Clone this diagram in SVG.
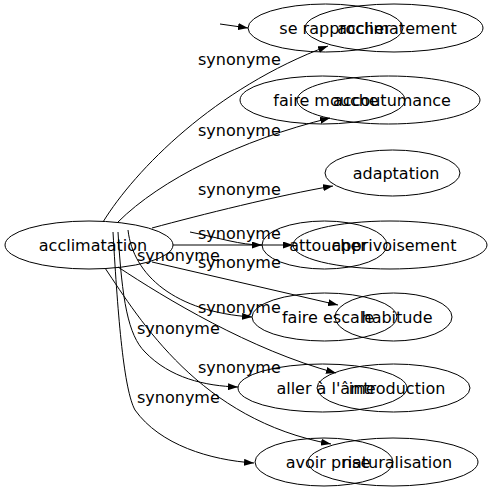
<svg xmlns="http://www.w3.org/2000/svg" width="492" height="491" viewBox="0 0 492 491">
<style>
.n ellipse{fill:none;stroke:#000;stroke-width:1}
.n text,.l{font-family:"DejaVu Sans",sans-serif;font-size:16px;fill:#000}
.n text{text-anchor:middle}
#edges path{fill:none;stroke:#000;stroke-width:1}
</style>
<defs>
<marker id="ah" markerWidth="10" markerHeight="7" refX="10" refY="3.5" orient="auto" markerUnits="userSpaceOnUse"><path d="M0,0 L10,3.5 L0,7 z" fill="#000"/></marker>
</defs>
<rect width="492" height="491" fill="#fff"/>
<g id="edges">
<path d="M220,24 L248,28" marker-end="url(#ah)"/>
<path d="M103,222 C135,170 215,88 328,46" marker-end="url(#ah)"/>
<path d="M118,222 C160,180 240,140 330,118" marker-end="url(#ah)"/>
<path d="M152,228 C200,215 280,195 333,186" marker-end="url(#ah)"/>
<path d="M173,245 L293,245" marker-end="url(#ah)"/>
<path d="M190,232 C220,238 240,245 262,245" marker-end="url(#ah)"/>
<path d="M152,262 L338,305" marker-end="url(#ah)"/>
<path d="M128,230 C133,275 175,312 252,317" marker-end="url(#ah)"/>
<path d="M118,267 C165,298 250,350 336,373" marker-end="url(#ah)"/>
<path d="M118,232 C122,300 128,335 145,352 C170,378 205,386 238,387" marker-end="url(#ah)"/>
<path d="M113,232 C118,320 124,390 135,410 C160,445 210,460 254,463" marker-end="url(#ah)"/>
<path d="M105,268 C140,320 200,420 331,444" marker-end="url(#ah)"/>
<text class="l" x="198" y="65">synonyme</text>
<text class="l" x="198" y="136">synonyme</text>
<text class="l" x="198" y="195">synonyme</text>
<text class="l" x="198" y="239">synonyme</text>
<text class="l" x="137" y="261">synonyme</text>
<text class="l" x="198" y="268">synonyme</text>
<text class="l" x="198" y="313">synonyme</text>
<text class="l" x="137" y="334">synonyme</text>
<text class="l" x="198" y="373">synonyme</text>
<text class="l" x="137" y="403">synonyme</text>
</g>
<g id="acclimatation" class="n"><ellipse cx="89" cy="245" rx="84" ry="24"/><text x="93" y="251">acclimatation</text></g>
<g id="se-rapprocher" class="n"><ellipse cx="325.5" cy="28" rx="77.5" ry="24"/><text x="335" y="34">se rapprocher</text></g>
<g id="acclimatement" class="n"><ellipse cx="394" cy="28" rx="89" ry="24"/><text x="397" y="34">acclimatement</text></g>
<g id="faire-mouche" class="n"><ellipse cx="322.5" cy="100" rx="82.5" ry="24"/><text x="326" y="106">faire mouche</text></g>
<g id="accoutumance" class="n"><ellipse cx="388.5" cy="100" rx="91.5" ry="24"/><text x="392" y="106">accoutumance</text></g>
<g id="adaptation" class="n"><ellipse cx="392.5" cy="173" rx="67.5" ry="23"/><text x="396" y="179">adaptation</text></g>
<g id="attoucher" class="n"><ellipse cx="324.5" cy="245" rx="62.5" ry="24"/><text x="328" y="251">attoucher</text></g>
<g id="apprivoisement" class="n"><ellipse cx="390" cy="245" rx="97" ry="24"/><text x="394" y="251">apprivoisement</text></g>
<g id="faire-escale" class="n"><ellipse cx="324.5" cy="317" rx="72.5" ry="24"/><text x="328" y="323">faire escale</text></g>
<g id="habitude" class="n"><ellipse cx="393.5" cy="317" rx="58.5" ry="24"/><text x="397" y="323">habitude</text></g>
<g id="aller-a-l-ame" class="n"><ellipse cx="322.5" cy="388" rx="84.5" ry="24"/><text x="326" y="394">aller à l'âme</text></g>
<g id="introduction" class="n"><ellipse cx="393.5" cy="388" rx="76.5" ry="24"/><text x="397" y="394">introduction</text></g>
<g id="avoir-prise" class="n"><ellipse cx="324" cy="462" rx="69" ry="24"/><text x="328" y="468">avoir prise</text></g>
<g id="naturalisation" class="n"><ellipse cx="393" cy="462" rx="85" ry="24"/><text x="397" y="468">naturalisation</text></g>
</svg>
